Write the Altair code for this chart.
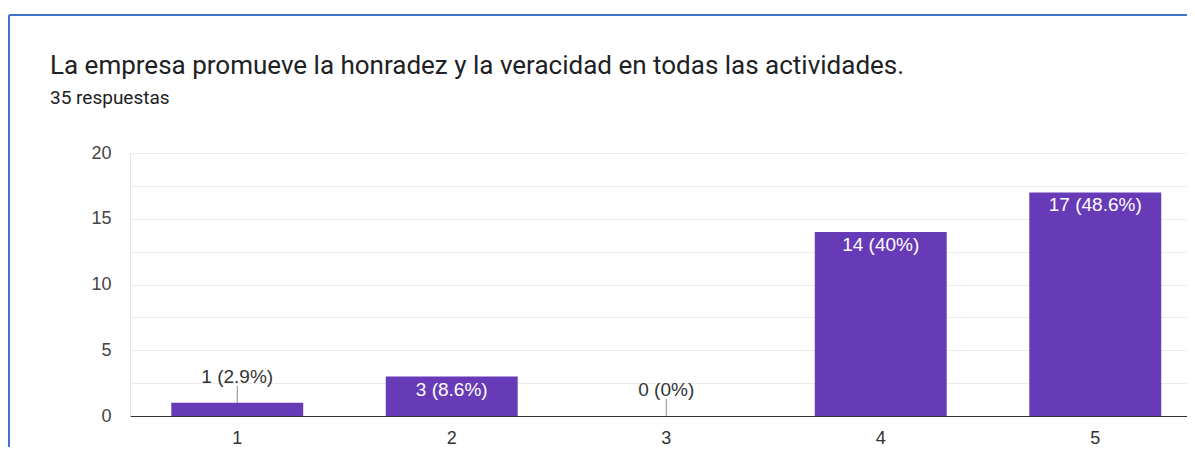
import altair as alt
import pandas as pd

# ---- data ----
categories = ["1", "2", "3", "4", "5"]
counts = [1, 3, 0, 14, 17]
labels = ["1 (2.9%)", "3 (8.6%)", "0 (0%)", "14 (40%)", "17 (48.6%)"]
y_ticks = [0, 2.5, 5, 7.5, 10, 12.5, 15, 17.5, 20]
title_text = "La empresa promueve la honradez y la veracidad en todas las actividades."
subtitle_text = "35 respuestas"

df = pd.DataFrame({"cat": categories, "count": counts, "label": labels})

PURPLE = "#673AB7"
FONT = "Liberation Sans"
FS = 18

x_enc = alt.X(
    "cat:N",
    sort=categories,
    scale=alt.Scale(range=[0, 1072.5], paddingInner=0.385, paddingOuter=0.1925),
    axis=alt.Axis(
        title=None, labelAngle=0, tickSize=0, labelPadding=13, labelFontSize=FS,
        labelFont=FONT, labelColor="#333333", domainColor="#333333", domainWidth=1,
        grid=False,
    ),
)
y_enc = alt.Y(
    "count:Q",
    scale=alt.Scale(domain=[0, 20], nice=False),
    axis=alt.Axis(
        title=None, values=y_ticks,
        labelExpr="datum.value % 5 == 0 ? datum.label : ''",
        tickSize=0, labelPadding=19, labelFontSize=FS, labelFont=FONT,
        labelColor="#444444", gridColor="#ebebeb", domainColor="#e6e6e6",
    ),
)

base = alt.Chart(df).encode(x=x_enc, y=y_enc)

bars = base.mark_bar(color=PURPLE)

inside = base.transform_filter("datum.count >= 3").mark_text(
    color="white", baseline="middle", dy=13, fontSize=19, font=FONT
).encode(text="label:N")

outside = base.transform_filter("datum.count < 3").mark_text(
    color="#333333", baseline="middle", dy=-26, fontSize=19, font=FONT
).encode(text="label:N")

leader = base.transform_filter("datum.count < 3").mark_rule(
    color="#888888", strokeWidth=1, y2Offset=-17
).encode(y2=alt.Y2("count:Q"))

one = pd.DataFrame({"title": [title_text], "subtitle": [subtitle_text]})
title_mark = alt.Chart(one).mark_text(
    align="left", baseline="alphabetic", fontSize=26, font="Roboto", color="#202124"
).encode(x=alt.value(-80), y=alt.value(-79), text="title:N")
subtitle_mark = alt.Chart(one).mark_text(
    align="left", baseline="alphabetic", fontSize=19, font="Roboto", color="#202124"
).encode(x=alt.value(-80), y=alt.value(-49), text="subtitle:N")

frame_top = alt.Chart(one).mark_rule(color="#4472C4", strokeWidth=2).encode(
    x=alt.value(-121), x2=alt.value(1100), y=alt.value(-138)
)
frame_left = alt.Chart(one).mark_rule(color="#4472C4", strokeWidth=2).encode(
    x=alt.value(-121), y=alt.value(-138), y2=alt.value(320)
)

chart = alt.layer(
    bars, leader, outside, inside, title_mark, subtitle_mark, frame_top, frame_left
).properties(
    width=1057,
    height=263,
    padding={"left": 122, "top": 145, "right": 0, "bottom": 31},
    autosize=alt.AutoSizeParams(type="none"),
).configure_view(stroke=None)

chart.save("out.html", embed_options={"renderer": "svg", "actions": False})
